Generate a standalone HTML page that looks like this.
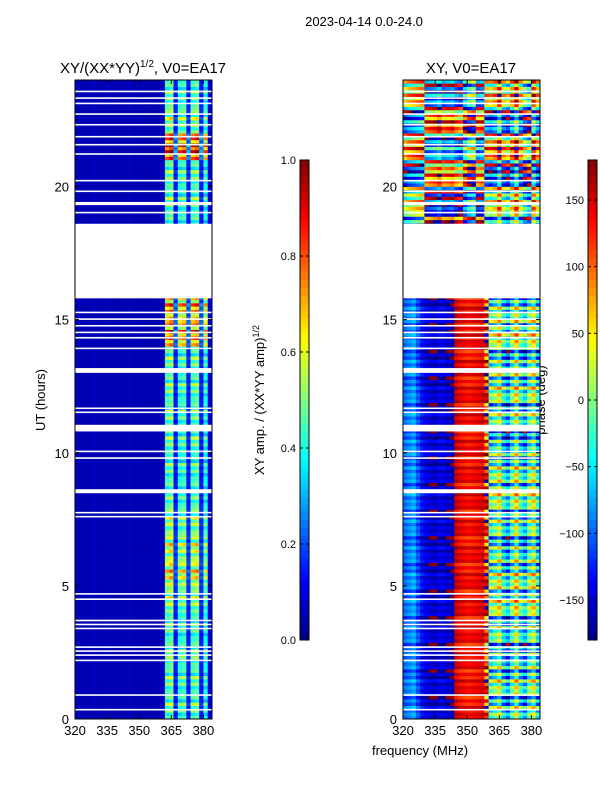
<!DOCTYPE html>
<html><head><meta charset="utf-8">
<style>
body{margin:0;background:#fff;}
svg{display:block;font-family:"Liberation Sans",sans-serif;}
</style></head>
<body>
<svg id="fig" width="600" height="800" viewBox="0 0 600 800">
<rect width="600" height="800" fill="#fff"/>
<text x="364" y="26" font-size="13" text-anchor="middle">2023-04-14 0.0-24.0</text>
<text x="143" y="73" font-size="15" text-anchor="middle">XY/(XX*YY)<tspan font-size="10" dy="-6">1/2</tspan><tspan dy="6">, V0=EA17</tspan></text>
<text x="471" y="73" font-size="15" text-anchor="middle">XY, V0=EA17</text>
<text x="420" y="755" font-size="13" text-anchor="middle">frequency (MHz)</text>
<text x="45" y="400" font-size="13" text-anchor="middle" transform="rotate(-90 45 400)">UT (hours)</text>
<text x="264" y="400" font-size="13" text-anchor="middle" transform="rotate(-90 264 400)">XY amp. / (XX*YY amp)<tspan font-size="9" dy="-5">1/2</tspan></text>
<text x="545" y="400" font-size="13" text-anchor="middle" transform="rotate(-90 545 400)">phase (deg)</text>
<g id="left"></g>
<g id="right"></g>
<g id="gaps"></g>
<g id="axes"></g>
</svg>
<script>
// ---- data ----
const freqCols = [320,322,324,326,328,330,332,334,336,338,340,342,344,346,348,350,352,354,356,358,360,362,364,366,368,370,372,374,376,378,380,382];
const ampProfile = [0.06,0.05,0.05,0.05,0.06,0.05,0.05,0.06,0.05,0.05,0.05,0.05,0.06,0.05,0.05,0.05,0.05,0.05,0.05,0.05,0.06,0.45,0.5,0.15,0.42,0.45,0.15,0.45,0.48,0.15,0.4,0.1];
const ampHourGain = [1.0,1.0,1.0,0.95,1.1,1.3,1.2,1.1,1.0,0.95,1.0,1.0,1.0,1.0,1.6,1.5,1.0,1.0,1.0,1.0,1.0,1.8,1.1,1.0];
const rowTexture = [1.0,0.8,1.15,0.9,1.25,0.75,1.05,0.95];
const phaseLow = [-100,-90,-80,-110,-140,-150,-155,-160,-150,-150,-160,-165,150,140,135,130,135,140,145,120,-40,-20,10,-60,-90,-30,20,-50,-80,-20,10,-60];
const phaseHigh = [-60,-40,-30,-20,-10,150,160,170,-170,150,160,170,140,120,-160,-120,-100,150,160,-40,-50,-30,30,-60,-80,-20,40,-50,-100,-130,20,-40];
const phaseHourShift = [0,10,-20,0,30,20,-10,0,20,10,-30,0,20,-10,30,0,0,0,0,60,-80,120,-60,90];
const phaseRowTexture = [0,40,-30,70,-60,20,-90,50];
const gapHours = [[0.33,0.38],[0.88,0.93],[2.18,2.23],[2.38,2.43],[2.53,2.58],[2.68,2.73],[3.38,3.43],[3.53,3.58],[3.68,3.73],[4.48,4.53],[4.68,4.73],[7.58,7.63],[7.73,7.78],[8.48,8.63],[9.78,9.83],[10.03,10.08],[10.8,11.05],[11.5,11.55],[11.65,11.7],[13.0,13.18],[13.9,13.95],[14.3,14.35],[14.5,14.55],[14.75,14.8],[15.0,15.05],[15.25,15.3],[15.8,18.6],[19.0,19.05],[19.3,19.42],[19.8,19.85],[20.2,20.25],[21.2,21.25],[21.55,21.6],[21.85,21.9],[22.3,22.35],[22.7,22.75],[23.1,23.15],[23.3,23.35],[23.55,23.6]];
const xTicks = [320,335,350,365,380];
const yTicks = [0,5,10,15,20];
const ampTicks = [0.0,0.2,0.4,0.6,0.8,1.0];
const phaseTicks = [-150,-100,-50,0,50,100,150];

// ---- scales ----
const NS="http://www.w3.org/2000/svg";
const Y0=719, Y1=80, fMin=320, fMax=384, tMax=24;
function xs(f,x0){return x0+(f-fMin)*(137/(fMax-fMin));}
function ys(t){return Y0-t*((Y0-Y1)/tMax);}
function jet(v){v=Math.max(0,Math.min(1,v));const c=x=>Math.round(255*Math.max(0,Math.min(1,x)));
 return `rgb(${c(1.5-Math.abs(4*v-3))},${c(1.5-Math.abs(4*v-2))},${c(1.5-Math.abs(4*v-1))})`;}
function mk(tag,attrs,parent){const e=document.createElementNS(NS,tag);for(const k in attrs)e.setAttribute(k,attrs[k]);parent.appendChild(e);return e;}
function wrap(p){while(p>180)p-=360;while(p<-180)p+=360;return p;}

const L=document.getElementById('left'), R=document.getElementById('right'), G=document.getElementById('gaps'), A=document.getElementById('axes');
const dt=0.125, df=2;
for(let r=0;r<tMax/dt;r++){
 const t=r*dt;
 const h=Math.floor(t), tex=rowTexture[r%rowTexture.length], ptex=phaseRowTexture[r%phaseRowTexture.length];
 for(let c=0;c<freqCols.length;c++){
  const f=freqCols[c];
  let a=ampProfile[c]; if(a>0.12) a=a*ampHourGain[h]*tex;
  const e1=mk('rect',{x:xs(f,75),y:ys(t+dt),width:xs(f+df,75)-xs(f,75)+0.3,height:ys(t)-ys(t+dt)+0.3,fill:jet(a)},L);
  
  
  const base=(t>=18.6?phaseHigh[c]:phaseLow[c]);
  const shift=(f>=358||t>=18.6)?phaseHourShift[h]+ptex:ptex*0.3;
  const p=wrap(base+shift);
  const e2=mk('rect',{x:xs(f,403),y:ys(t+dt),width:xs(f+df,403)-xs(f,403)+0.3,height:ys(t)-ys(t+dt)+0.3,fill:jet((p+180)/360)},R);
  
  
 }
}
// flagged gaps drawn as white bands
[75,403].forEach(x0=>{
 gapHours.forEach(g=>{
  const e=mk('rect',{x:x0,y:ys(g[1]),width:137,height:Math.max(1.6,ys(g[0])-ys(g[1])),fill:'#fff'},G);
  
  
 });
});
// axes frames and ticks
[75,403].forEach((x0,i)=>{
 const fr=mk('rect',{x:x0,y:Y1,width:137,height:Y0-Y1,fill:'none',stroke:'#000','stroke-width':1},A);
 
 
 xTicks.forEach(v=>{const x=xs(v,x0);
  mk('line',{x1:x,x2:x,y1:Y0,y2:Y0-4,stroke:'#000'},A);mk('line',{x1:x,x2:x,y1:Y1,y2:Y1+4,stroke:'#000'},A);
  const tx=mk('text',{x:x,y:Y0+16,'font-size':13,'text-anchor':'middle'},A);tx.textContent=v;
  
  });
 yTicks.forEach(v=>{const y=ys(v);
  mk('line',{x1:x0,x2:x0+4,y1:y,y2:y,stroke:'#000'},A);mk('line',{x1:x0+137,x2:x0+133,y1:y,y2:y,stroke:'#000'},A);
  const tx=mk('text',{x:x0-6,y:y+5,'font-size':13,'text-anchor':'end'},A);tx.textContent=v;
  
  });
});
// colorbars
function colorbar(x0,ticks,vmin,vmax,fmt,name){
 const g=mk('g',{},A);
 
 
 const top=160,bot=640,n=64;
 for(let i=0;i<n;i++){const v=(i+0.5)/n;
  mk('rect',{x:x0,y:bot-(i+1)*(bot-top)/n,width:9,height:(bot-top)/n+0.4,fill:jet(v)},g);}
 mk('rect',{x:x0,y:top,width:9,height:bot-top,fill:'none',stroke:'#000'},g);
 ticks.forEach(v=>{const y=bot-(v-vmin)/(vmax-vmin)*(bot-top);
  mk('line',{x1:x0,x2:x0+3,y1:y,y2:y,stroke:'#000'},g);mk('line',{x1:x0+9,x2:x0+6,y1:y,y2:y,stroke:'#000'},g);
  const tx=mk('text',{x:x0-4,y:y+4,'font-size':11,'text-anchor':'end'},g);tx.textContent=fmt(v);
  
  });
}
colorbar(300,ampTicks,0,1,v=>v.toFixed(1),'amp-colorbar');
colorbar(588,phaseTicks,-180,180,v=>v<0?'\u2212'+(-v):String(v),'phase-colorbar');
</script>
</body></html>
